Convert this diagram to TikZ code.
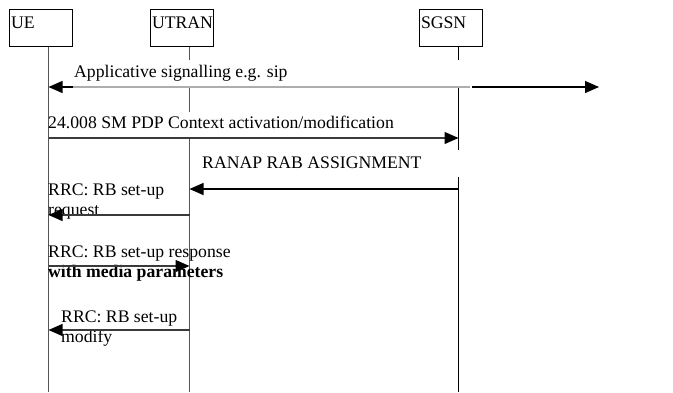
\documentclass[tikz,border=0pt]{standalone}
\usepackage{fontspec}
\setmainfont{Liberation Serif}
\usetikzlibrary{arrows.meta}
\definecolor{lifegray}{HTML}{555555}
\definecolor{siggray}{HTML}{ADADAD}
\definecolor{msggray}{HTML}{3A3A3A}
\begin{document}
\begin{tikzpicture}[x=1pt,y=-1pt,
  every node/.style={font=\fontsize{17.7}{20}\selectfont},
  entity/.style={draw=black, line width=1pt, anchor=north west,
    minimum width=63pt, text width=60pt, inner xsep=1.5pt, inner ysep=0.5pt,
    text height=18pt, text depth=18pt, align=left},
  life/.style={draw=lifegray, line width=1.2pt},
  lifeblack/.style={draw=black, line width=1.2pt},
  msg/.style={draw=msggray, line width=1.2pt, -{Triangle[length=14pt,width=12pt,color=black]}},
  lbl/.style={anchor=base west, inner sep=0pt, align=left},
]
\useasboundingbox (0,0) rectangle (673,392);

% entities
\node[entity] (ue) at (9,9) {UE};
\node[entity] (utran) at (150,9) {UTRAN};
\node[entity] (sgsn) at (419,9) {SGSN};

% lifeline tops
\coordinate (ueT) at ([xshift=7.5pt]ue.south);
\coordinate (utT) at ([xshift=7.5pt]utran.south);
\coordinate (sgT) at ([xshift=7.5pt]sgsn.south);

% lifelines (interrupted behind the message labels)
\draw[life] (ueT) -- (ueT |- 0,392);
\draw[life] (utT) -- (utT |- 0,60) (utT |- 0,87) -- (utT |- 0,112)
            (utT |- 0,138) -- (utT |- 0,392);
\draw[lifeblack] (sgT) -- (sgT |- 0,60) (sgT |- 0,87) -- (sgT |- 0,150)
            (sgT |- 0,177) -- (sgT |- 0,392);

% applicative signalling
\coordinate (appA) at (73,87);
\coordinate (appB) at (470,87);
\coordinate (appC) at (472,87);
\coordinate (appD) at (599,87);
\draw[draw=siggray, line width=1.2pt] (appA) -- (appB);
\draw[msg, draw=black] (appA) -- (ueT |- appA);
\draw[msg, draw=black] (appC) -- (appD);
\node[lbl] (appL) at (74,77) {Applicative signalling e.g. sip};

% PDP context activation
\node[lbl] (pdpL) at (48,128) {24.008 SM PDP Context activation/modification};
\draw[msg] (ueT |- 0,138) -- (sgT |- 0,138);

% RANAP
\node[lbl] (ranapL) at (202,168) {RANAP RAB ASSIGNMENT};
\draw[msg, draw=black] (sgT |- 0,189) -- (utT |- 0,189);

% RRC set-up request (base anchor sits on the last line)
\node[lbl] (reqL) at (48,215) {RRC: RB set-up\\request};
\draw[msg] (utT |- 0,215) -- (ueT |- 0,215);

% RRC set-up response
\node[lbl] (respL) at (48,277) {RRC: RB set-up response\\\textbf{with media parameters}};
\draw[msg] (ueT |- 0,266) -- (utT |- 0,266);

% RRC set-up modify
\node[lbl] (modL) at (61,342) {RRC: RB set-up\\modify};
\draw[msg] (utT |- 0,330) -- (ueT |- 0,330);
\end{tikzpicture}
\end{document}
